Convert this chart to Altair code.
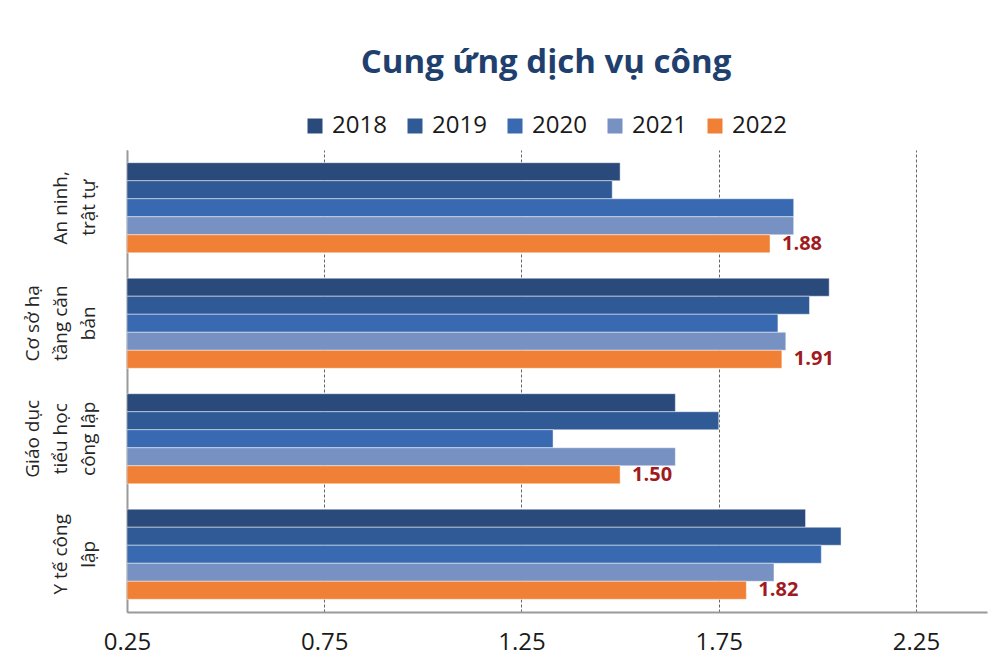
import altair as alt
import pandas as pd

categories = ["An ninh,\ntrật tự", "Cơ sở hạ\ntầng căn\nbản", "Giáo dục\ntiểu học\ncông lập", "Y tế công\nlập"]
years = ["2018", "2019", "2020", "2021", "2022"]
values = {
    "2018": [1.50, 2.03, 1.64, 1.97],
    "2019": [1.48, 1.98, 1.75, 2.06],
    "2020": [1.94, 1.90, 1.33, 2.01],
    "2021": [1.94, 1.92, 1.64, 1.89],
    "2022": [1.88, 1.91, 1.50, 1.82],
}
colors = ["#2B4A7C", "#2F5A95", "#3969B1", "#7891C3", "#F08035"]
ticks = [0.25, 0.75, 1.25, 1.75, 2.25]

rows = []
for y in years:
    for c, v in zip(categories, values[y]):
        rows.append({"cat": c, "year": y, "value": v})
df = pd.DataFrame(rows)

x_scale = alt.Scale(domain=[0.25, 2.43], nice=False, zero=False)
y_scale = alt.Scale(domain=categories, paddingInner=0.22, paddingOuter=0.11)

label_expr = ("length(split(datum.label, '\\n')) < 3 ? "
              "split('\\n' + datum.label, '\\n') : split(datum.label, '\\n')")

base = alt.Chart(df)

bars = base.mark_bar(stroke="#ffffff", strokeOpacity=0.45, strokeWidth=1, clip=True).encode(
    x=alt.X("value:Q", scale=x_scale,
            axis=alt.Axis(values=ticks, title=None, format=".2f", grid=True,
                          gridDash=[3, 2], gridColor="#666666", gridWidth=1,
                          domainColor="#9a9a9a", domainWidth=2, ticks=False,
                          labelFontSize=24, labelFont="Open Sans", labelColor="#1a1a1a",
                          labelPadding=18, labelFlush=False)),
    x2=alt.X2(datum=0.25),
    y=alt.Y("cat:N", scale=y_scale, sort=categories,
            axis=alt.Axis(title=None, ticks=False, domainColor="#9a9a9a", domainWidth=2,
                          labelExpr=label_expr, labelAngle=270,
                          labelAlign="center", labelBaseline="bottom",
                          labelFontSize=19, labelFont="Open Sans", labelColor="#262626",
                          labelLineHeight=28, labelPadding=85,
                          minExtent=114, maxExtent=114)),
    yOffset=alt.YOffset("year:N", sort=years),
    color=alt.Color("year:N", sort=years,
                    scale=alt.Scale(domain=years, range=colors),
                    legend=alt.Legend(title=None, orient="none", direction="horizontal",
                                      legendX=176, legendY=-36, symbolType="square",
                                      symbolSize=225, symbolStrokeWidth=0,
                                      labelFontSize=24, labelFont="Open Sans",
                                      labelColor="#1a1a1a", labelOffset=5,
                                      columnPadding=16, padding=0)),
)

labels = base.transform_filter(alt.datum.year == "2022").mark_text(
    align="left", baseline="middle", dx=12, fontSize=20, fontWeight="bold",
    font="Open Sans", color="#A01B1F"
).encode(
    x=alt.X("value:Q", scale=x_scale),
    y=alt.Y("cat:N", scale=y_scale, sort=categories),
    yOffset=alt.YOffset("year:N", sort=years, scale=alt.Scale(domain=years)),
    text=alt.Text("value:Q", format=".2f"),
)

chart = alt.layer(bars, labels).properties(
    width=860, height=462,
    title=alt.TitleParams("Cung ứng dịch vụ công", fontSize=33, font="Open Sans",
                          fontWeight="bold", color="#1F3F6E", offset=34, dx=-11),
    padding={"top": 39, "left": 5, "right": 5, "bottom": 5},
).configure_view(stroke=None)

chart.save("out.html", embed_options={"renderer": "svg", "actions": False})
